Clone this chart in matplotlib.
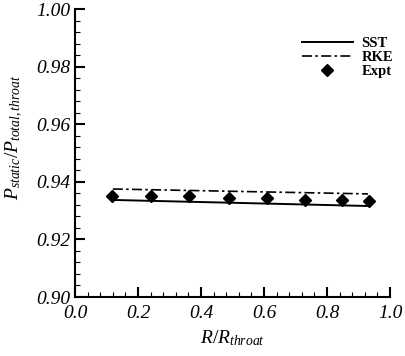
import numpy as np
import matplotlib
matplotlib.use("Agg")
from matplotlib import pyplot as plt
from matplotlib.ticker import MultipleLocator

plt.rcParams['font.family'] = ['Liberation Serif', 'DejaVu Serif']
plt.rcParams['mathtext.fontset'] = 'custom'
plt.rcParams['mathtext.it'] = 'Liberation Serif:italic'
plt.rcParams['mathtext.rm'] = 'Liberation Serif'

# SST and RKE predictions (line end points)
sst_r = [0.12, 0.93]
sst_p = [0.9337, 0.9316]
rke_r = [0.12, 0.93]
rke_p = [0.9375, 0.9358]

# experimental data
expt_r = [0.118, 0.241, 0.362, 0.489, 0.608, 0.730, 0.848, 0.932]
expt_p = [0.9352, 0.9350, 0.9350, 0.9343, 0.9343, 0.9338, 0.9337, 0.9334]

fig = plt.figure(figsize=(4.05, 3.56), dpi=100)
ax = fig.add_axes([75 / 405, 59 / 356, 315 / 405, 288 / 356])

ax.plot(sst_r, sst_p, color='black', lw=1.4, label='SST')
ax.plot(rke_r, rke_p, color='black', lw=1.2, ls=(0, (6, 2, 1.5, 2)), label='RKE')
ax.plot(expt_r, expt_p, ls='none', marker='D', ms=6.5, color='black', label='Expt')

ax.set_xlim(0.0, 1.0)
ax.set_ylim(0.90, 1.00)
ax.xaxis.set_major_locator(MultipleLocator(0.2))
ax.xaxis.set_minor_locator(MultipleLocator(0.04))
ax.yaxis.set_major_locator(MultipleLocator(0.02))
ax.yaxis.set_minor_locator(MultipleLocator(0.004))
ax.xaxis.set_major_formatter(lambda v, p: f'{v:.1f}')
ax.yaxis.set_major_formatter(lambda v, p: f'{v:.2f}')

for s in ['top', 'right']:
    ax.spines[s].set_visible(False)
for s in ['left', 'bottom']:
    ax.spines[s].set_linewidth(1.5)

ax.tick_params(which='both', direction='in', labelsize=14, pad=3)
ax.tick_params(axis='x', which='both', pad=6)
ax.tick_params(which='major', length=7, width=1.5)
ax.tick_params(which='minor', length=3.5, width=0.8)
for lbl in ax.get_xticklabels() + ax.get_yticklabels():
    lbl.set_fontstyle('italic')

ax.set_xlabel(r'$R/R_{throat}$', fontsize=14, labelpad=4)
ax.set_ylabel(r'$P_{static}/P_{total,throat}$', fontsize=14)
ax.yaxis.set_label_coords(-0.16, 0.556)

ax.legend(loc='upper left', bbox_to_anchor=(0.72, 0.903), frameon=False,
          prop={'weight': 'bold', 'size': 10.5}, handlelength=3.5,
          handletextpad=0.6, labelspacing=0.05, borderpad=0, borderaxespad=0)

fig.savefig('out.png', dpi=100)
